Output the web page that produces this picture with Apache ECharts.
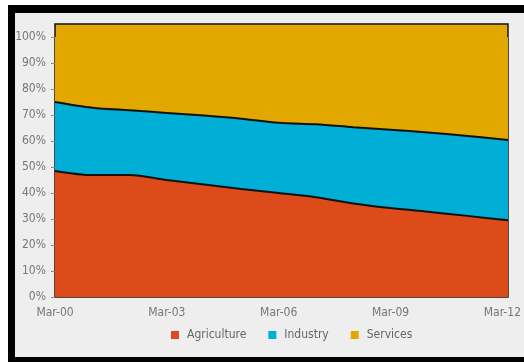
<!DOCTYPE html>
<html>
<head>
<meta charset="utf-8">
<script src="https://cdn.jsdelivr.net/npm/echarts@6/dist/echarts.min.js"></script>
<style>
html,body{margin:0;padding:0;background:#fff;}
#chart{width:524px;height:362px;}
</style>
</head>
<body>
<div id="chart"></div>
<script>
// Years since Mar-2000 (last reading at the right edge of the plot)
const years = [0, 1, 2, 3, 4, 5, 6, 7, 8, 9, 10, 11, 12.15];
const agriculture = [48.5, 46.9, 46.9, 45.0, 43.3, 41.5, 40.0, 38.4, 36.0, 34.2, 32.8, 31.3, 29.5];
const industry    = [26.5, 25.9, 24.9, 25.8, 26.5, 27.1, 27.0, 28.0, 29.3, 30.1, 30.5, 30.7, 30.9];
const services    = [25.0, 27.2, 28.2, 29.2, 30.2, 31.4, 33.0, 33.6, 34.7, 35.7, 36.7, 38.0, 39.6];
const xTickYears = [0, 3, 6, 9, 12];
const yTicks = [0, 10, 20, 30, 40, 50, 60, 70, 80, 90, 100];
const seriesNames = ['Agriculture', 'Industry', 'Services'];
const colors = ['#dc4b19', '#00aed6', '#e3a800'];

// cumulative (stacked) tops, built from the series arrays
const cumAgri = agriculture.map((v, i) => [years[i], v]);
const cumInd = agriculture.map((v, i) => [years[i], v + industry[i]]);
const cumSvc = agriculture.map((v, i) => [years[i], v + industry[i] + services[i]]);
const font = "'Liberation Sans Narrow', 'DejaVu Sans Condensed', sans-serif";

const chart = echarts.init(document.getElementById('chart'), null, {renderer: 'canvas'});
chart.setOption({
  animation: false,
  backgroundColor: '#ffffff',
  graphic: [
    {type: 'rect', z: -10, shape: {x: 8, y: 5, width: 516, height: 357}, style: {fill: '#000'}},
    {type: 'rect', z: -9, shape: {x: 15, y: 13, width: 509, height: 344}, style: {fill: '#eeeeee'}}
  ],
  grid: {
    left: 55, right: 15, top: 24, bottom: 65,
    show: true, borderColor: '#111', borderWidth: 1.5, backgroundColor: colors[2]
  },
  legend: {
    data: seriesNames,
    left: 171, top: 329, padding: 0,
    icon: 'rect', itemWidth: 8, itemHeight: 8, itemGap: 22,
    textStyle: {fontFamily: font, fontSize: 12, color: '#666', padding: [0, 0, 0, 3]}
  },
  xAxis: {
    type: 'value', min: 0, max: 12.15,
    axisLine: {show: false},
    axisTick: {show: false},
    splitLine: {show: false},
    axisLabel: {
      customValues: xTickYears,
      margin: 10,
      fontFamily: font, fontSize: 12, color: '#777',
      formatter: v => 'Mar-' + String(Math.round(v)).padStart(2, '0')
    }
  },
  yAxis: {
    type: 'value', min: 0, max: 105,
    axisLine: {show: false},
    splitLine: {show: false},
    axisTick: {show: true, customValues: yTicks, length: 4, lineStyle: {color: '#888'}},
    axisLabel: {
      customValues: yTicks,
      margin: 9,
      fontFamily: font, fontSize: 12, color: '#777',
      formatter: v => v + '%'
    }
  },
  series: [
    {name: seriesNames[2], type: 'line', data: cumSvc, smooth: 0.3,
     symbol: 'none', itemStyle: {color: colors[2]}, lineStyle: {color: colors[2], width: 0},
     areaStyle: {color: colors[2], opacity: 1}, z: 1},
    {name: seriesNames[1], type: 'line', data: cumInd, smooth: 0.3,
     symbol: 'none', itemStyle: {color: colors[1]}, lineStyle: {color: '#111', width: 2},
     areaStyle: {color: colors[1], opacity: 1}, z: 2},
    {name: seriesNames[0], type: 'line', data: cumAgri, smooth: 0.3,
     symbol: 'none', itemStyle: {color: colors[0]}, lineStyle: {color: '#111', width: 2},
     areaStyle: {color: colors[0], opacity: 1}, z: 3}
  ]
});
</script>
</body>
</html>
